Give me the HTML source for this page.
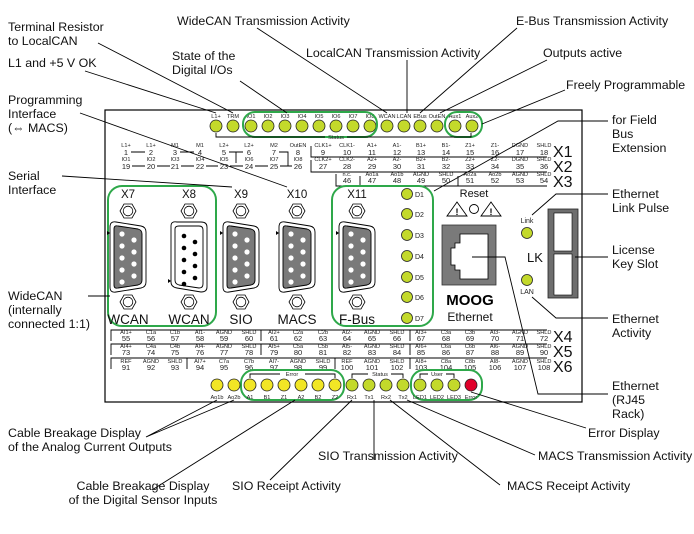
<!DOCTYPE html>
<html><head><meta charset="utf-8"><style>
html,body{margin:0;padding:0;background:#fff;}
svg{display:block;font-family:"Liberation Sans",sans-serif;}
.a{font-size:12.4px;fill:#111;}
.t{font-size:5.6px;fill:#222;text-anchor:middle;}
.n{font-size:7.5px;fill:#222;text-anchor:middle;}
.l{font-size:5.6px;fill:#222;text-anchor:middle;}
.ln{stroke:#000;stroke-width:0.9;fill:none;}
</style></head><body>
<svg width="694" height="534" viewBox="0 0 694 534" xmlns="http://www.w3.org/2000/svg">
<defs>
<g id="nut"><polygon points="-8,0 -4,-7 4,-7 8,0 4,7 -4,7" fill="#fff" stroke="#000" stroke-width="0.8"/><circle r="4.8" fill="#fff" stroke="#000" stroke-width="0.8"/></g>
<g id="dsub">
<path d="M-18,227 Q-18,221 -12,222 L13,226 Q18,227 18,232 L18,282 Q18,287 13,288 L-12,292 Q-18,293 -18,287 Z" fill="#fff" stroke="#000" stroke-width="0.9"/>
<path d="M-14,229 Q-14,225 -10,226 L10,229 Q14,230 14,234 L14,280 Q14,284 10,285 L-10,288 Q-14,289 -14,285 Z" fill="#7a7a7a" stroke="#000" stroke-width="0.9"/>
<g fill="#fff"><circle cx="-6" cy="234" r="2.6"/><circle cx="-6" cy="246" r="2.6"/><circle cx="-6" cy="258" r="2.6"/><circle cx="-6" cy="270" r="2.6"/><circle cx="-6" cy="282" r="2.6"/>
<circle cx="6" cy="240" r="2.6"/><circle cx="6" cy="252" r="2.6"/><circle cx="6" cy="264" r="2.6"/><circle cx="6" cy="276" r="2.6"/></g>
<polygon points="-21,231 -18,233 -21,235" fill="#000"/>
</g>
<g id="dsubf">
<path d="M-18,226 Q-18,221 -12,222 L12,222 Q18,222 18,227 L18,287 Q18,292 12,292 L-12,288 Q-18,287 -18,282 Z" fill="#fff" stroke="#000" stroke-width="0.9"/>
<path d="M-14,229 Q-14,226 -10,226 L10,226 Q14,226 14,230 L14,284 Q14,288 10,288 L-10,285 Q-14,284 -14,280 Z" fill="#fff" stroke="#000" stroke-width="0.9"/>
<g fill="#000"><circle cx="-5" cy="236" r="2.3"/><circle cx="-5" cy="248" r="2.3"/><circle cx="-5" cy="260" r="2.3"/><circle cx="-5" cy="272" r="2.3"/><circle cx="-5" cy="284" r="2.3"/>
<circle cx="6" cy="242" r="2.3"/><circle cx="6" cy="254" r="2.3"/><circle cx="6" cy="266" r="2.3"/><circle cx="6" cy="278" r="2.3"/></g>
<polygon points="-21,279 -18,281 -21,283" fill="#000"/>
</g>
</defs>

<rect x="105" y="110" width="477" height="292" fill="#fff" stroke="#000" stroke-width="1.2"/>

<g class="l">
<text x="216" y="118">L1+</text><text x="233" y="118">TRM</text><text x="251" y="118">IO1</text><text x="268" y="118">IO2</text><text x="285" y="118">IO3</text><text x="302" y="118">IO4</text><text x="319" y="118">IO5</text><text x="336" y="118">IO6</text><text x="353" y="118">IO7</text><text x="370" y="118">IO8</text><text x="387" y="118">WCAN</text><text x="404" y="118">LCAN</text><text x="420" y="118">EBus</text><text x="437" y="118">OutEN</text><text x="455" y="118">Aux1</text><text x="472" y="118">Aux2</text>
</g>
<g fill="#c3d92b" stroke="#222" stroke-width="0.8">
<circle cx="216" cy="126" r="6"/><circle cx="233" cy="126" r="6"/><circle cx="251" cy="126" r="6"/><circle cx="268" cy="126" r="6"/><circle cx="285" cy="126" r="6"/><circle cx="302" cy="126" r="6"/><circle cx="319" cy="126" r="6"/><circle cx="336" cy="126" r="6"/><circle cx="353" cy="126" r="6"/><circle cx="370" cy="126" r="6"/><circle cx="387" cy="126" r="6"/><circle cx="404" cy="126" r="6"/><circle cx="420" cy="126" r="6"/><circle cx="437" cy="126" r="6"/><circle cx="455" cy="126" r="6"/><circle cx="472" cy="126" r="6"/>
</g>
<rect x="243" y="112" width="134" height="25" rx="12" fill="none" stroke="#2ea84a" stroke-width="2"/>
<rect x="445" y="112" width="37" height="25" rx="12" fill="none" stroke="#2ea84a" stroke-width="2"/>
<path class="ln" d="M216,133 V137 H325 M347,137 H471 V133"/>
<text class="l" x="336" y="139">Status</text>

<g class="t">
<text x="126" y="147">L1+</text><text x="151" y="147">L1+</text><text x="175" y="147">M1</text><text x="200" y="147">M1</text><text x="224" y="147">L2+</text><text x="249" y="147">L2+</text><text x="274" y="147">M2</text><text x="298" y="147">OutEN</text><text x="323" y="147">CLK1+</text><text x="347" y="147">CLK1-</text><text x="372" y="147">A1+</text><text x="397" y="147">A1-</text><text x="421" y="147">B1+</text><text x="446" y="147">B1-</text><text x="470" y="147">Z1+</text><text x="495" y="147">Z1-</text><text x="520" y="147">DGND</text><text x="544" y="147">SHLD</text>
<text x="126" y="161">IO1</text><text x="151" y="161">IO2</text><text x="175" y="161">IO3</text><text x="200" y="161">IO4</text><text x="224" y="161">IO5</text><text x="249" y="161">IO6</text><text x="274" y="161">IO7</text><text x="298" y="161">IO8</text><text x="323" y="161">CLK2+</text><text x="347" y="161">CLK2-</text><text x="372" y="161">A2+</text><text x="397" y="161">A2-</text><text x="421" y="161">B2+</text><text x="446" y="161">B2-</text><text x="470" y="161">Z2+</text><text x="495" y="161">Z2-</text><text x="520" y="161">DGND</text><text x="544" y="161">SHLD</text>
<text x="347" y="176">n.c.</text><text x="372" y="176">Ao1a</text><text x="397" y="176">Ao1b</text><text x="421" y="176">AGND</text><text x="446" y="176">SHLD</text><text x="470" y="176">Ao2a</text><text x="495" y="176">Ao2b</text><text x="520" y="176">AGND</text><text x="544" y="176">SHLD</text>
</g>
<g class="n">
<text x="126" y="155">1</text><text x="151" y="155">2</text><text x="175" y="155">3</text><text x="200" y="155">4</text><text x="224" y="155">5</text><text x="249" y="155">6</text><text x="274" y="155">7</text><text x="298" y="155">8</text><text x="323" y="155">9</text><text x="347" y="155">10</text><text x="372" y="155">11</text><text x="397" y="155">12</text><text x="421" y="155">13</text><text x="446" y="155">14</text><text x="470" y="155">15</text><text x="495" y="155">16</text><text x="520" y="155">17</text><text x="544" y="155">18</text>
<text x="126" y="169">19</text><text x="151" y="169">20</text><text x="175" y="169">21</text><text x="200" y="169">22</text><text x="224" y="169">23</text><text x="249" y="169">24</text><text x="274" y="169">25</text><text x="298" y="169">26</text><text x="323" y="169">27</text><text x="347" y="169">28</text><text x="372" y="169">29</text><text x="397" y="169">30</text><text x="421" y="169">31</text><text x="446" y="169">32</text><text x="470" y="169">33</text><text x="495" y="169">34</text><text x="520" y="169">35</text><text x="544" y="169">36</text>
<text x="347" y="183">46</text><text x="372" y="183">47</text><text x="397" y="183">48</text><text x="421" y="183">49</text><text x="446" y="183">50</text><text x="470" y="183">51</text><text x="495" y="183">52</text><text x="520" y="183">53</text><text x="544" y="183">54</text>
</g>
<path class="ln" d="M131,152 H145 M180,152 H194 M229,152 H243 M236,152 V163 M279,152 H288 V163
M132,166 H145 M157,166 H170 M181,166 H194 M206,166 H218 M230,166 H243 M255,166 H268 M280,166 H292 M288,166 V163
M311,146 V157 H547 M311,160 V172 H547 M336,174 V186 H547 M360,176 V186 M458,176 V186"/>
<g style="font-size:16px" fill="#111"><text x="553" y="157">X1</text><text x="553" y="172">X2</text><text x="553" y="187">X3</text></g>

<rect x="108" y="186" width="108" height="140" rx="14" fill="none" stroke="#2ea84a" stroke-width="2"/>
<rect x="332" y="186" width="101" height="140" rx="14" fill="none" stroke="#2ea84a" stroke-width="2"/>
<g style="font-size:11.5px" fill="#111" text-anchor="middle">
<text x="128" y="198">X7</text><text x="189" y="198">X8</text><text x="241" y="198">X9</text><text x="297" y="198">X10</text><text x="357" y="198">X11</text>
</g>
<g style="font-size:13.5px" fill="#111" text-anchor="middle">
<text x="128" y="324">WCAN</text><text x="189" y="324">WCAN</text><text x="241" y="324">SIO</text><text x="297" y="324">MACS</text><text x="357" y="324">F-Bus</text>
</g>
<use href="#nut" x="128" y="211"/><use href="#nut" x="189" y="211"/><use href="#nut" x="241" y="211"/><use href="#nut" x="297" y="211"/><use href="#nut" x="357" y="211"/>
<use href="#nut" x="128" y="302"/><use href="#nut" x="189" y="302"/><use href="#nut" x="241" y="302"/><use href="#nut" x="297" y="302"/><use href="#nut" x="357" y="302"/>
<use href="#dsub" x="128" y="0"/><use href="#dsubf" x="189" y="0"/><use href="#dsub" x="241" y="0"/><use href="#dsub" x="297" y="0"/><use href="#dsub" x="357" y="0"/>

<g fill="#c3d92b" stroke="#222" stroke-width="0.8">
<circle cx="407" cy="194" r="5.5"/><circle cx="407" cy="214" r="5.5"/><circle cx="407" cy="235" r="5.5"/><circle cx="407" cy="256" r="5.5"/><circle cx="407" cy="277" r="5.5"/><circle cx="407" cy="297" r="5.5"/><circle cx="407" cy="318" r="5.5"/>
</g>
<g style="font-size:7px" fill="#222">
<text x="415" y="197">D1</text><text x="415" y="217">D2</text><text x="415" y="238">D3</text><text x="415" y="259">D4</text><text x="415" y="280">D5</text><text x="415" y="300">D6</text><text x="415" y="321">D7</text>
</g>

<text x="474" y="197" style="font-size:11px" fill="#111" text-anchor="middle">Reset</text>
<g stroke="#000" stroke-width="0.9" fill="#fff">
<polygon points="457,202 447,216 467,216"/><circle cx="474" cy="209" r="4.5"/><polygon points="491,202 481,216 501,216"/>
</g>
<g style="font-size:9px;font-weight:bold" text-anchor="middle" fill="#000"><text x="457" y="215">!</text><text x="491" y="215">!</text></g>
<rect x="442" y="225" width="54" height="60" fill="#7a7a7a" stroke="#333" stroke-width="0.8"/>
<path d="M460,234 H488 V279 H460 V270 H455 V265 H451 V248 H455 V243 H460 Z" fill="#fff" stroke="#000" stroke-width="0.8"/>
<text x="470" y="305" style="font-size:15px;font-weight:bold" fill="#000" text-anchor="middle">MOOG</text>
<text x="470" y="321" style="font-size:12px" fill="#111" text-anchor="middle">Ethernet</text>

<text x="527" y="223" style="font-size:7px" fill="#222" text-anchor="middle">Link</text>
<circle cx="527" cy="233" r="5.5" fill="#c3d92b" stroke="#222" stroke-width="0.8"/>
<circle cx="527" cy="280" r="5.5" fill="#c3d92b" stroke="#222" stroke-width="0.8"/>
<text x="527" y="294" style="font-size:7px" fill="#222" text-anchor="middle">LAN</text>
<text x="527" y="262" style="font-size:13px" fill="#111">LK</text>
<rect x="548" y="209" width="30" height="89" fill="#6e6e6e" stroke="#222" stroke-width="0.8"/>
<rect x="554" y="213" width="18" height="38" fill="#fff" stroke="#000" stroke-width="0.6"/>
<rect x="554" y="254" width="18" height="41" fill="#fff" stroke="#000" stroke-width="0.6"/>

<g class="t">
<text x="126" y="334">AI1+</text><text x="151" y="334">C1a</text><text x="175" y="334">C1b</text><text x="200" y="334">AI1-</text><text x="224" y="334">AGND</text><text x="249" y="334">SHLD</text><text x="274" y="334">AI2+</text><text x="298" y="334">C2a</text><text x="323" y="334">C2b</text><text x="347" y="334">AI2-</text><text x="372" y="334">AGND</text><text x="397" y="334">SHLD</text><text x="421" y="334">AI3+</text><text x="446" y="334">C3a</text><text x="470" y="334">C3b</text><text x="495" y="334">AI3-</text><text x="520" y="334">AGND</text><text x="544" y="334">SHLD</text>
<text x="126" y="348">AI4+</text><text x="151" y="348">C4a</text><text x="175" y="348">C4b</text><text x="200" y="348">AI4-</text><text x="224" y="348">AGND</text><text x="249" y="348">SHLD</text><text x="274" y="348">AI5+</text><text x="298" y="348">C5a</text><text x="323" y="348">C5b</text><text x="347" y="348">AI5-</text><text x="372" y="348">AGND</text><text x="397" y="348">SHLD</text><text x="421" y="348">AI6+</text><text x="446" y="348">C6a</text><text x="470" y="348">C6b</text><text x="495" y="348">AI6-</text><text x="520" y="348">AGND</text><text x="544" y="348">SHLD</text>
<text x="126" y="363">REF</text><text x="151" y="363">AGND</text><text x="175" y="363">SHLD</text><text x="200" y="363">AI7+</text><text x="224" y="363">C7a</text><text x="249" y="363">C7b</text><text x="274" y="363">AI7-</text><text x="298" y="363">AGND</text><text x="323" y="363">SHLD</text><text x="347" y="363">REF</text><text x="372" y="363">AGND</text><text x="397" y="363">SHLD</text><text x="421" y="363">AI8+</text><text x="446" y="363">C8a</text><text x="470" y="363">C8b</text><text x="495" y="363">AI8-</text><text x="520" y="363">AGND</text><text x="544" y="363">SHLD</text>
</g>
<g class="n">
<text x="126" y="341">55</text><text x="151" y="341">56</text><text x="175" y="341">57</text><text x="200" y="341">58</text><text x="224" y="341">59</text><text x="249" y="341">60</text><text x="274" y="341">61</text><text x="298" y="341">62</text><text x="323" y="341">63</text><text x="347" y="341">64</text><text x="372" y="341">65</text><text x="397" y="341">66</text><text x="421" y="341">67</text><text x="446" y="341">68</text><text x="470" y="341">69</text><text x="495" y="341">70</text><text x="520" y="341">71</text><text x="544" y="341">72</text>
<text x="126" y="355">73</text><text x="151" y="355">74</text><text x="175" y="355">75</text><text x="200" y="355">76</text><text x="224" y="355">77</text><text x="249" y="355">78</text><text x="274" y="355">79</text><text x="298" y="355">80</text><text x="323" y="355">81</text><text x="347" y="355">82</text><text x="372" y="355">83</text><text x="397" y="355">84</text><text x="421" y="355">85</text><text x="446" y="355">86</text><text x="470" y="355">87</text><text x="495" y="355">88</text><text x="520" y="355">89</text><text x="544" y="355">90</text>
<text x="126" y="370">91</text><text x="151" y="370">92</text><text x="175" y="370">93</text><text x="200" y="370">94</text><text x="224" y="370">95</text><text x="249" y="370">96</text><text x="274" y="370">97</text><text x="298" y="370">98</text><text x="323" y="370">99</text><text x="347" y="370">100</text><text x="372" y="370">101</text><text x="397" y="370">102</text><text x="421" y="370">103</text><text x="446" y="370">104</text><text x="470" y="370">105</text><text x="495" y="370">106</text><text x="520" y="370">107</text><text x="544" y="370">108</text>
</g>
<path class="ln" d="M111,341 V330 H547 M261,330 V341 M410,330 V341
M111,355 V344 H547 M261,344 V355 M410,344 V355
M111,369 V358 H547 M187,358 V369 M335,358 V369 M410,358 V369"/>
<g style="font-size:16px" fill="#111"><text x="553" y="342">X4</text><text x="553" y="357">X5</text><text x="553" y="372">X6</text></g>

<rect x="241" y="370" width="103" height="30" rx="13" fill="none" stroke="#2ea84a" stroke-width="2"/>
<rect x="411" y="370" width="71" height="30" rx="13" fill="none" stroke="#2ea84a" stroke-width="2"/>
<path class="ln" d="M250,378 V374 H280 M305,374 H335 V378 M352,378 V374 H368 M391,374 H403 V378 M420,378 V374 H428 M446,374 H454 V378"/>
<g class="l"><text x="292" y="376">Error</text><text x="380" y="376">Status</text><text x="437" y="376">User</text></g>
<g fill="#f2e625" stroke="#222" stroke-width="0.8">
<circle cx="217" cy="385" r="6"/><circle cx="234" cy="385" r="6"/><circle cx="250" cy="385" r="6"/><circle cx="267" cy="385" r="6"/><circle cx="284" cy="385" r="6"/><circle cx="301" cy="385" r="6"/><circle cx="318" cy="385" r="6"/><circle cx="335" cy="385" r="6"/>
</g>
<g fill="#c3d92b" stroke="#222" stroke-width="0.8">
<circle cx="352" cy="385" r="6"/><circle cx="369" cy="385" r="6"/><circle cx="386" cy="385" r="6"/><circle cx="403" cy="385" r="6"/><circle cx="420" cy="385" r="6"/><circle cx="437" cy="385" r="6"/><circle cx="454" cy="385" r="6"/>
</g>
<circle cx="471" cy="385" r="6" fill="#e0002a" stroke="#222" stroke-width="0.8"/>
<g class="l">
<text x="217" y="399">Ao1b</text><text x="234" y="399">Ao2b</text><text x="250" y="399">A1</text><text x="267" y="399">B1</text><text x="284" y="399">Z1</text><text x="301" y="399">A2</text><text x="318" y="399">B2</text><text x="335" y="399">Z2</text><text x="352" y="399">Rx1</text><text x="369" y="399">Tx1</text><text x="386" y="399">Rx2</text><text x="403" y="399">Tx2</text><text x="420" y="399">LED1</text><text x="437" y="399">LED2</text><text x="454" y="399">LED3</text><text x="471" y="399">Error</text>
</g>

<path class="ln" d="M98,43 L233,113 M85,71 L216,113 M80,113 L287,187 M62,176 L232,187 M240,81 L287,113 M257,28 L387,113 M407,60 V113 M517,28 L420,113 M547,60 L440,113 M565,90 L482,124
M608,121 H558 L434,191 M608,194 H556 L532,215 M575,257 H608 M608,318 H556 L532,297
M472,257 H505 L538,394 H608 M471,392 L586,428 M88,296 H110
M146,437 L217,400 M146,437 L234,400 M152,490 L295,400 M270,480 L352,400 M374,400 V460 M500,485 L390,400 M535,455 L407,400"/>

<g class="a">
<text x="8" y="31">Terminal Resistor</text><text x="8" y="45">to LocalCAN</text>
<text x="8" y="67">L1 and +5 V OK</text>
<text x="8" y="104">Programming</text><text x="8" y="118">Interface</text><text x="8" y="132">(⇔ MACS)</text>
<text x="8" y="180">Serial</text><text x="8" y="194">Interface</text>
<text x="8" y="300">WideCAN</text><text x="8" y="314">(internally</text><text x="8" y="328">connected 1:1)</text>
<text x="172" y="60">State of the</text><text x="172" y="74">Digital I/Os</text>
<text x="177" y="25">WideCAN Transmission Activity</text>
<text x="306" y="57">LocalCAN Transmission Activity</text>
<text x="516" y="25">E-Bus Transmission Activity</text>
<text x="543" y="57">Outputs active</text>
<text x="566" y="89">Freely Programmable</text>
<text x="612" y="124">for Field</text><text x="612" y="138">Bus</text><text x="612" y="152">Extension</text>
<text x="612" y="198">Ethernet</text><text x="612" y="212">Link Pulse</text>
<text x="612" y="254">License</text><text x="612" y="268">Key Slot</text>
<text x="612" y="323">Ethernet</text><text x="612" y="337">Activity</text>
<text x="612" y="390">Ethernet</text><text x="612" y="404">(RJ45</text><text x="612" y="418">Rack)</text>
<text x="588" y="437">Error Display</text>
<text x="8" y="437">Cable Breakage Display</text><text x="8" y="451">of the Analog Current Outputs</text>
<text x="318" y="460">SIO Transmission Activity</text>
<text x="538" y="460">MACS Transmission Activity</text>
<text x="143" y="490" text-anchor="middle">Cable Breakage Display</text><text x="143" y="504" text-anchor="middle">of the Digital Sensor Inputs</text>
<text x="232" y="490">SIO Receipt Activity</text>
<text x="507" y="490">MACS Receipt Activity</text>
</g>
</svg>
</body></html>
